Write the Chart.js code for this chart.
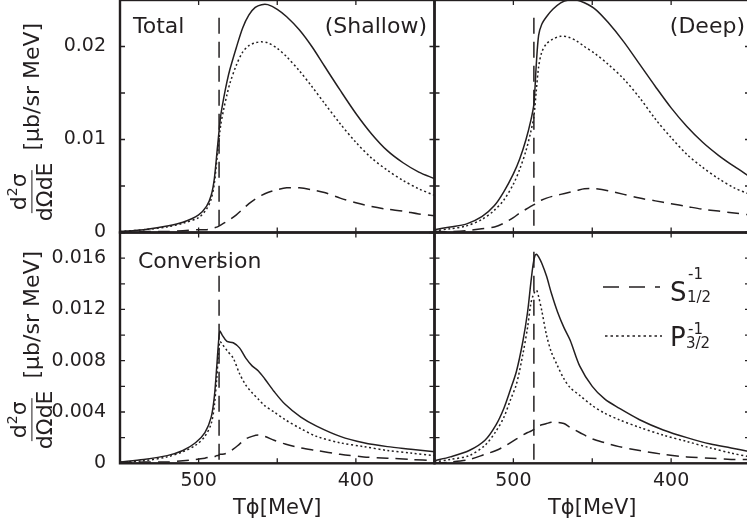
<!DOCTYPE html>
<html>
<head>
<meta charset="utf-8">
<script src="https://cdn.jsdelivr.net/npm/chart.js@4.4.1/dist/chart.umd.min.js"></script>
<style>
  html, body { margin: 0; padding: 0; background: #fff; }
  #fig { position: relative; width: 747px; height: 524px; overflow: hidden;
         font-family: 'DejaVu Sans', sans-serif; color: #231f20; }
  #fig canvas { position: absolute; left: 0; top: -20px; }
  .lbl { position: absolute; font-size: 22px; line-height: 22px; white-space: nowrap; }
  .ytitle { position: absolute; transform: translate(-50%, -50%) rotate(-90deg);
            display: flex; align-items: center; font-size: 22px; white-space: nowrap; }
  .frac { display: inline-flex; flex-direction: column; align-items: center; margin-right: 12px; }
  .frac .num { border-bottom: 1.5px solid #231f20; padding: 0 3px 1px; line-height: 1.05; }
  .frac .den { line-height: 1.05; padding-top: 1px; }
  .frac sup { font-size: 14px; vertical-align: 9px; line-height: 0; }
  .leg { position: absolute; white-space: nowrap; }
  .sym { font-size: 26px; line-height: 26px; }
  .ix { font-size: 15px; line-height: 15px; }
</style>
</head>
<body>
<div id="fig">
  <canvas id="c1" width="770" height="560"></canvas>
  <canvas id="c2" width="770" height="560"></canvas>
  <canvas id="c3" width="770" height="560"></canvas>
  <canvas id="c4" width="770" height="560"></canvas>

  <div class="lbl" style="left:133px;top:15px">Total</div>
  <div class="lbl" style="right:320px;top:15px">(Shallow)</div>
  <div class="lbl" style="right:2px;top:15px">(Deep)</div>
  <div class="lbl" style="left:138px;top:250px">Conversion</div>

  <div class="ytitle" style="left:32px;top:122px">
    <span class="frac"><span class="num">d<sup>2</sup>σ</span><span class="den">dΩdE</span></span>
    <span>[μb/sr MeV]</span>
  </div>
  <div class="ytitle" style="left:32px;top:350px">
    <span class="frac"><span class="num">d<sup>2</sup>σ</span><span class="den">dΩdE</span></span>
    <span>[μb/sr MeV]</span>
  </div>

  <!-- legend -->
  <svg class="leg" style="left:600px;top:284px" width="62" height="6">
    <line x1="3" y1="3" x2="60" y2="3" stroke="#231f20" stroke-width="1.4" stroke-dasharray="16 10"/>
  </svg>
  <div class="leg sym" style="left:670px;top:279px">S</div>
  <div class="leg ix" style="left:688px;top:267px">-1</div>
  <div class="leg ix" style="left:687px;top:290px">1/2</div>

  <svg class="leg" style="left:602px;top:333px" width="62" height="6">
    <line x1="3" y1="3" x2="60" y2="3" stroke="#231f20" stroke-width="1.4" stroke-dasharray="2.5 3"/>
  </svg>
  <div class="leg sym" style="left:670px;top:324px">P</div>
  <div class="leg ix" style="left:688px;top:322px">-1</div>
  <div class="leg ix" style="left:686px;top:336px">3/2</div>
</div>

<script>
// x axis: T_phi [MeV], reversed (550 -> 350)
const thresholdT = [487, 487];
const shallowMarker = [0.0231, 0];
const convMarker = [0.0165, 0];

// Total, shallow
const shallowT = [550, 535, 520, 510, 500, 495, 492, 490, 488, 486, 484, 482, 480, 476, 472, 468, 464, 460, 456, 450, 444, 436, 428, 420, 410, 400, 390, 380, 370, 360, 350];
const shallowSum = [0.0001, 0.0003, 0.0007, 0.0011, 0.0019, 0.0028, 0.0040, 0.0058, 0.0092, 0.0125, 0.0145, 0.0162, 0.0176, 0.0199, 0.0220, 0.0234, 0.0242, 0.0245, 0.0245, 0.0240, 0.0232, 0.0218, 0.0200, 0.0179, 0.0153, 0.0128, 0.0106, 0.0088, 0.0075, 0.0065, 0.0058];
const shallowP = [0.0001, 0.0003, 0.0006, 0.0010, 0.0016, 0.0025, 0.0036, 0.0053, 0.0085, 0.0115, 0.0133, 0.0148, 0.0161, 0.0180, 0.0194, 0.0201, 0.0204, 0.0205, 0.0204, 0.0198, 0.0189, 0.0174, 0.0157, 0.0139, 0.0117, 0.0097, 0.0080, 0.0067, 0.0056, 0.0047, 0.0040];
const shallowS = [0.0000, 0.0001, 0.0001, 0.0002, 0.0003, 0.0003, 0.0004, 0.0005, 0.0006, 0.0008, 0.0010, 0.0012, 0.0014, 0.0019, 0.0025, 0.0031, 0.0036, 0.0040, 0.0043, 0.0046, 0.0048, 0.0048, 0.0046, 0.0043, 0.0037, 0.0032, 0.0028, 0.0025, 0.0023, 0.0020, 0.0018];

// Total, deep
const deepT = [550, 540, 530, 520, 512, 506, 500, 496, 492, 489, 487, 485.5, 484, 482, 479, 475, 470, 465, 460, 455, 448, 440, 430, 420, 410, 400, 390, 380, 370, 360, 350];
const deepSum = [0.0003, 0.0006, 0.0009, 0.0017, 0.0029, 0.0044, 0.0063, 0.0079, 0.0100, 0.0120, 0.0138, 0.0180, 0.0212, 0.0224, 0.0232, 0.0240, 0.0247, 0.0250, 0.0250, 0.0247, 0.0240, 0.0226, 0.0205, 0.0181, 0.0157, 0.0134, 0.0114, 0.0097, 0.0083, 0.0071, 0.0060];
const deepP = [0.0002, 0.0004, 0.0007, 0.0014, 0.0024, 0.0035, 0.0052, 0.0068, 0.0088, 0.0108, 0.0125, 0.0152, 0.0178, 0.0194, 0.0203, 0.0208, 0.0211, 0.0210, 0.0206, 0.0200, 0.0192, 0.0181, 0.0165, 0.0145, 0.0122, 0.0102, 0.0084, 0.0070, 0.0058, 0.0048, 0.0041];
const deepS = [0.0001, 0.0001, 0.0002, 0.0004, 0.0006, 0.0010, 0.0016, 0.0021, 0.0025, 0.0028, 0.0030, 0.0031, 0.0033, 0.0035, 0.0037, 0.0039, 0.0041, 0.0043, 0.0045, 0.0047, 0.0047, 0.0045, 0.0041, 0.0037, 0.0034, 0.0031, 0.0028, 0.0025, 0.0023, 0.0021, 0.0019];

// Conversion, shallow
const convT = [550, 535, 520, 510, 502, 496, 492, 490, 488.5, 487.5, 486.5, 485, 482, 478, 474, 470, 466, 462, 458, 452, 445, 435, 425, 410, 395, 380, 365, 350];
const convSum = [0.0001, 0.0003, 0.0006, 0.0010, 0.0016, 0.0024, 0.0036, 0.0052, 0.0075, 0.0092, 0.0103, 0.0100, 0.0095, 0.0094, 0.0090, 0.0082, 0.0076, 0.0072, 0.0066, 0.0056, 0.0046, 0.0036, 0.0029, 0.0021, 0.0016, 0.0013, 0.0011, 0.0009];
const convP = [0.0001, 0.0002, 0.0005, 0.0009, 0.0014, 0.0021, 0.0031, 0.0045, 0.0066, 0.0083, 0.0095, 0.0093, 0.0088, 0.0082, 0.0070, 0.0061, 0.0055, 0.0050, 0.0045, 0.0040, 0.0034, 0.0027, 0.0021, 0.0016, 0.0013, 0.0010, 0.0008, 0.0006];
const convS = [0.0000, 0.0001, 0.0001, 0.0002, 0.0003, 0.0004, 0.0005, 0.0005, 0.0006, 0.0006, 0.0007, 0.0007, 0.0008, 0.0011, 0.0015, 0.0019, 0.0021, 0.0022, 0.0021, 0.0018, 0.0015, 0.0012, 0.0010, 0.0007, 0.0005, 0.0004, 0.0003, 0.0002];

// Conversion, deep
const convDeepT = [550, 540, 528, 518, 511, 506, 502, 498, 494, 491, 489, 487.5, 486.3, 485.3, 484, 482, 479, 476, 472, 468, 464, 458, 450, 442, 433, 420, 405, 390, 375, 362, 350];
const convDeepSum = [0.0002, 0.0005, 0.0010, 0.0018, 0.0030, 0.0043, 0.0057, 0.0072, 0.0095, 0.0118, 0.0140, 0.0155, 0.0162, 0.0163, 0.0161, 0.0156, 0.0146, 0.0133, 0.0118, 0.0106, 0.0096, 0.0076, 0.0060, 0.0050, 0.0043, 0.0034, 0.0026, 0.0020, 0.0015, 0.0012, 0.0009];
const convDeepP = [0.0001, 0.0003, 0.0006, 0.0014, 0.0025, 0.0036, 0.0049, 0.0062, 0.0085, 0.0106, 0.0124, 0.0131, 0.0134, 0.0135, 0.0130, 0.0119, 0.0100, 0.0087, 0.0076, 0.0066, 0.0059, 0.0053, 0.0045, 0.0039, 0.0034, 0.0028, 0.0022, 0.0017, 0.0012, 0.0008, 0.0005];
const convDeepS = [0.0000, 0.0001, 0.0003, 0.0007, 0.0010, 0.0013, 0.0016, 0.0019, 0.0022, 0.0024, 0.0025, 0.0026, 0.0027, 0.0028, 0.0029, 0.0030, 0.0031, 0.0032, 0.0032, 0.0031, 0.0028, 0.0024, 0.0019, 0.0016, 0.0013, 0.0010, 0.0007, 0.0005, 0.0004, 0.0003, 0.0003];

const ink = '#231f20';
Chart.defaults.font.family = "'DejaVu Sans', sans-serif";
Chart.defaults.font.size = 19;
Chart.defaults.color = ink;

const pts = (xs, ys) => xs.map((x, i) => ({ x: x, y: ys[i] }));
const isMult = (v, s) => Math.abs(v / s - Math.round(v / s)) < 1e-6;

// inward ticks on all four sides + thick frame
const framePlugin = {
    id: 'frame',
    afterDatasetsDraw(chart) {
        const { ctx, chartArea: a, scales: { x, y } } = chart;
        const len = 5;
        ctx.save();
        ctx.strokeStyle = ink;
        ctx.lineWidth = 1.3;
        ctx.beginPath();
        x.ticks.forEach(t => {
            const px = x.getPixelForValue(t.value);
            ctx.moveTo(px, a.bottom); ctx.lineTo(px, a.bottom - len);
            ctx.moveTo(px, a.top); ctx.lineTo(px, a.top + len);
        });
        y.ticks.forEach(t => {
            const py = y.getPixelForValue(t.value);
            ctx.moveTo(a.left, py); ctx.lineTo(a.left + len, py);
            ctx.moveTo(a.right, py); ctx.lineTo(a.right - len, py);
        });
        ctx.stroke();
        ctx.lineWidth = 2.4;
        ctx.strokeRect(a.left, a.top, a.right - a.left, a.bottom - a.top);
        ctx.restore();
    }
};

function panel(id, p) {
    const line = (data, dash, tension) => ({
        data: data, borderColor: ink, borderWidth: 1.5, borderDash: dash,
        pointRadius: 0, fill: false, tension: tension
    });
    new Chart(document.getElementById(id), {
        type: 'line',
        data: {
            datasets: [
                line(pts(p.t, p.sum), [], 0.3),
                line(pts(p.t, p.p), [2, 2.6], 0.3),
                line(pts(p.t, p.s), [12, 7], 0.3),
                line(pts(thresholdT, p.marker), [16, 8], 0)
            ]
        },
        options: {
            responsive: false,
            animation: false,
            layout: { padding: { left: p.padLeft, right: 770 - p.right, top: p.top + 20, bottom: p.padBottom } },
            plugins: { legend: { display: false }, tooltip: { enabled: false } },
            scales: {
                x: {
                    type: 'linear', reverse: true, min: 350, max: 550,
                    grid: { display: false }, border: { display: false },
                    ticks: {
                        display: p.xLabels, stepSize: 50, autoSkip: false, maxRotation: 0, padding: -2,
                        callback: v => (v === 500 || v === 400) ? String(v) : ''
                    },
                    title: {
                        display: p.xLabels, text: 'Tϕ[MeV]',
                        font: { size: 21 }, padding: { top: 0, bottom: 3 }
                    },
                    afterFit: s => { s.height = p.xHeight; }
                },
                y: {
                    min: 0, max: p.ymax,
                    grid: { display: false }, border: { display: false },
                    ticks: {
                        display: p.yLabels, stepSize: p.minor, autoSkip: false, padding: 6,
                        callback: v => isMult(v, p.major) ? (v === 0 ? '0' : String(parseFloat(v.toFixed(4)))) : ''
                    },
                    afterFit: s => { s.width = p.yWidth; }
                }
            }
        },
        plugins: [framePlugin]
    });
}

// top row: y 0 .. 232.5, bottom row: y 232.5 .. 463.3 (page px)
const topRow = { top: 0, padBottom: 560 - 252.5, xHeight: 0, xLabels: false, ymax: 0.025, minor: 0.005, major: 0.01, marker: shallowMarker };
const botRow = { top: 232.5, padBottom: 16, xHeight: 60.7, xLabels: true, ymax: 0.018, minor: 0.002, major: 0.004, marker: convMarker };
const leftCol = { padLeft: 0, yWidth: 120, yLabels: true, right: 434.5 };
const rightCol = { padLeft: 434.5, yWidth: 0, yLabels: false, right: 750 };

panel('c1', Object.assign({}, topRow, leftCol, { t: shallowT, sum: shallowSum, p: shallowP, s: shallowS }));
panel('c2', Object.assign({}, topRow, rightCol, { t: deepT, sum: deepSum, p: deepP, s: deepS }));
panel('c3', Object.assign({}, botRow, leftCol, { t: convT, sum: convSum, p: convP, s: convS }));
panel('c4', Object.assign({}, botRow, rightCol, { t: convDeepT, sum: convDeepSum, p: convDeepP, s: convDeepS }));
</script>
</body>
</html>
